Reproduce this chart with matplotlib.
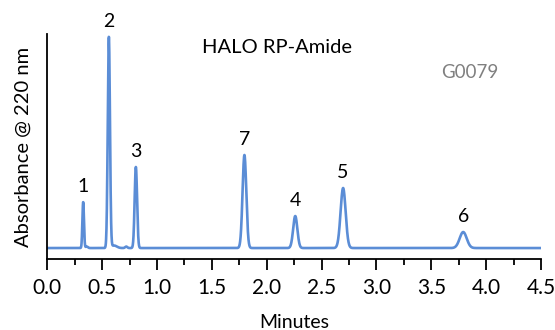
import numpy as np
import matplotlib.pyplot as plt

# peak table
peak_labels = ["1", "2", "3", "7", "4", "5", "6"]
peak_times = [0.328, 0.562, 0.808, 1.797, 2.26, 2.696, 3.79]
peak_heights = [46, 211, 81, 93, 32, 60, 16]
peak_widths = [0.007, 0.010, 0.011, 0.017, 0.019, 0.023, 0.032]
# small impurity bumps
minor_times = [0.36, 0.61, 0.72]
minor_heights = [1.5, 2.5, 1.5]
minor_widths = [0.01, 0.025, 0.01]

x_ticks = [0.0, 0.5, 1.0, 1.5, 2.0, 2.5, 3.0, 3.5, 4.0, 4.5]

t = np.linspace(0, 4.5, 4000)
signal = np.zeros_like(t)
for rt, h, w in zip(peak_times + minor_times, peak_heights + minor_heights,
                    peak_widths + minor_widths):
    signal += h * np.exp(-0.5 * ((t - rt) / w) ** 2)

plt.rcParams['font.family'] = ['Lato', 'DejaVu Sans']

fig = plt.figure(figsize=(5.55, 3.3), dpi=100)
ax = fig.add_axes([0.085, 0.215, 0.89, 0.682])
ax.plot(t, signal, color="#5B8DD6", lw=1.9)

for lab, rt, h in zip(peak_labels, peak_times, peak_heights):
    ax.text(rt, h + 7, lab, ha="center", va="bottom", fontsize=14)

ax.set_xlim(0, 4.5)
ax.set_ylim(-11, 214)
ax.set_xticks(x_ticks)
ax.set_xticklabels([f"{v:.1f}" for v in x_ticks])
ax.set_xticks(np.arange(0.25, 4.5, 0.5), minor=True)
ax.tick_params(axis="x", which="major", direction="out", length=8, width=1.3,
               labelsize=15, pad=6)
ax.tick_params(axis="x", which="minor", direction="out", length=4, width=1.3)
ax.set_yticks([])
ax.spines["top"].set_visible(False)
ax.spines["right"].set_visible(False)
ax.spines["left"].set_linewidth(1.3)
ax.spines["bottom"].set_linewidth(1.3)

ax.set_xlabel("Minutes", fontsize=14, labelpad=11)
ax.set_ylabel("Absorbance @ 220 nm", fontsize=14.5, labelpad=11)
ax.text(0.466, 0.94, "HALO RP-Amide", transform=ax.transAxes, ha="center",
        va="center", fontsize=14.5)
ax.text(0.855, 0.83, "G0079", transform=ax.transAxes, ha="center",
        va="center", fontsize=13.5, color="#808080")

fig.savefig("out.png", dpi=100)
